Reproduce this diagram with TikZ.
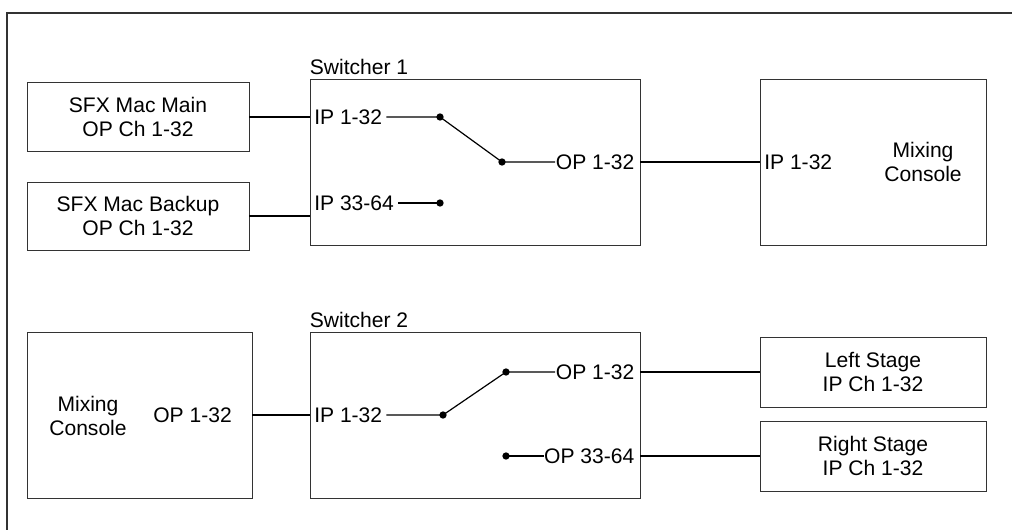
\documentclass[tikz,border=0pt]{standalone}
\usepackage{fontspec}
\setmainfont{Liberation Sans}
\usetikzlibrary{positioning}

\begin{document}
\begin{tikzpicture}[x=0.75pt, y=-0.75pt,
		font=\fontsize{15.8}{17.3}\selectfont,
		box/.style={draw=black!80, line width=0.6pt, rectangle, align=center, inner sep=0pt},
		port/.style={inner xsep=3pt, inner ysep=1pt},
		outport/.style={anchor=east, inner xsep=0.3pt, inner ysep=1pt},
		title/.style={anchor=south west, inner xsep=0pt, inner ysep=3pt},
		dot/.style={circle, fill=black, inner sep=0pt, minimum size=5.5pt},
		wire/.style={line width=0.9pt}]
		\useasboundingbox (0,0) rectangle (1012,530);

		% Frame
		\draw[black!80, line width=1pt] (1012,13) -- (7,13) -- (7,530);

		% Nodes, top row
		\node (main) [box, minimum width=166.5pt, minimum height=51.75pt] at (138,117) {SFX Mac Main\\OP Ch 1-32};
		\node (backup) [box, minimum width=166.5pt, minimum height=51pt] at (138,216) {SFX Mac Backup\\OP Ch 1-32};
		\node (sw1) [box, minimum width=247.5pt, minimum height=124.5pt] at (475,162) {};
		\node (mix1) [box, minimum width=169.5pt, minimum height=124.5pt] at (873,162) {};
		\node (sw1lbl) [title] at (sw1.north west) {Switcher 1};
		\node (mix1txt) [align=center] at (923,162) {Mixing\\Console};

		% Ports and contacts, top row
		\node (sw1in1) [port, anchor=west] at (310,117) {IP 1-32};
		\node (sw1in2) [port, anchor=west] at (310,203) {IP 33-64};
		\node (sw1out) [outport] at (635,162) {OP 1-32};
		\node (mix1in) [port, anchor=west] at (760,162) {IP 1-32};
		\node (d1a) [dot] at (440,117) {};
		\node (d1b) [dot] at (440,203) {};
		\node (d1c) [dot] at (502,162) {};

		% Nodes, bottom row
		\node (mix2) [box, minimum width=168.75pt, minimum height=124.5pt] at (139.5,415) {};
		\node (sw2) [box, minimum width=247.5pt, minimum height=124.5pt] at (475,415) {};
		\node (left) [box, minimum width=169.5pt, minimum height=52.5pt] at (873,372) {Left Stage\\IP Ch 1-32};
		\node (right) [box, minimum width=169.5pt, minimum height=52.5pt] at (873,456) {Right Stage\\IP Ch 1-32};
		\node (sw2lbl) [title] at (sw2.north west) {Switcher 2};
		\node (mix2txt) [align=center] at (88,416) {Mixing\\Console};

		% Ports and contacts, bottom row
		\node (mix2op) [port, anchor=east] at (236,415) {OP 1-32};
		\node (sw2in) [port, anchor=west] at (310,415) {IP 1-32};
		\node (sw2out1) [outport] at (635,372) {OP 1-32};
		\node (sw2out2) [outport] at (635,456) {OP 33-64};
		\node (d2a) [dot] at (443,415) {};
		\node (d2b) [dot] at (506,372) {};
		\node (d2c) [dot] at (506,456) {};

		% Wires, top row
		\draw[wire] (main.east) -- (sw1in1.west);
		\draw[wire] (backup.east) -- (backup.east -| sw1.west);
		\draw[wire] (sw1in1) -- (d1a.center) -- (d1c.center) -- (sw1out);
		\draw[wire] (sw1in2) -- (d1b.center);
		\draw[wire] (sw1out -| sw1.east) -- (mix1in.west);

		% Wires, bottom row
		\draw[wire] (mix2.east) -- (sw2in.west);
		\draw[wire] (sw2in) -- (d2a.center) -- (d2b.center) -- (sw2out1);
		\draw[wire] (d2c.center) -- (sw2out2);
		\draw[wire] (sw2out1 -| sw2.east) -- (left.west);
		\draw[wire] (sw2out2 -| sw2.east) -- (right.west);
	\end{tikzpicture}
\end{document}
